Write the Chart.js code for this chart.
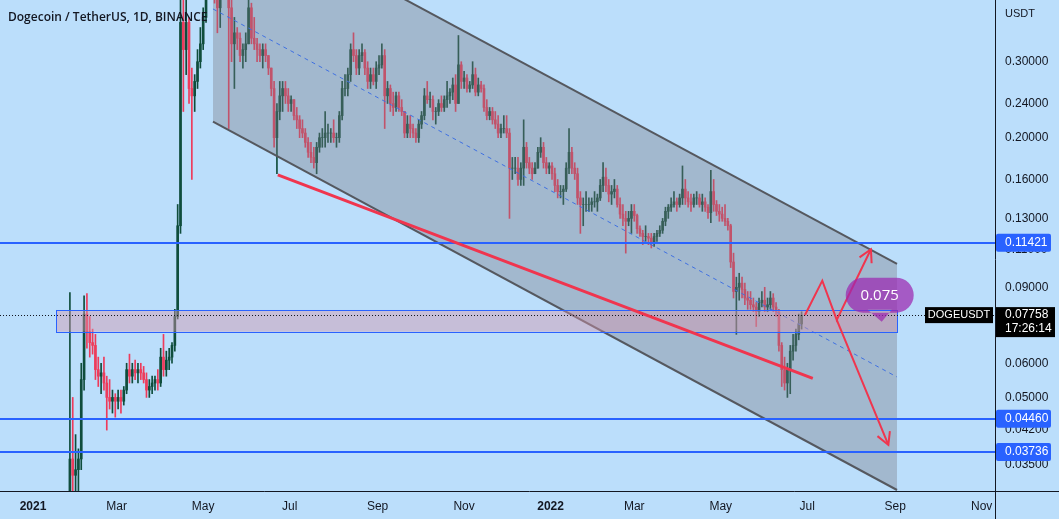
<!DOCTYPE html>
<html>
<head>
<meta charset="utf-8">
<script src="https://cdn.jsdelivr.net/npm/chart.js@4.4.1/dist/chart.umd.min.js"></script>
<style>
  html, body { margin: 0; padding: 0; background: #bbdefb; }
  #wrap { width: 1059px; height: 519px; position: relative; }
</style>
</head>
<body>
<div id="wrap"><canvas id="chart"></canvas></div>
<script>
// DOGE/USDT, two-day candles (day 0 = 1 Jan 2021)
const firstDay = 26;
const stepDays = 2;
const firstOpen = 0.0074;

const highs = [
  0.0875, 0.05, 0.041, 0.038, 0.06, 0.086, 0.087, 0.077, 0.072, 0.07,
  0.062, 0.06, 0.062, 0.056, 0.055, 0.052, 0.051, 0.052, 0.052, 0.053,
  0.06, 0.063, 0.06, 0.061, 0.06, 0.06, 0.059, 0.057, 0.055, 0.056,
  0.056, 0.058, 0.065, 0.07, 0.064, 0.065, 0.067, 0.08, 0.14, 0.45,
  0.42, 0.42, 0.38, 0.29, 0.28, 0.32, 0.36, 0.40, 0.58, 0.70,
  0.74, 0.69, 0.53, 0.52, 0.55, 0.52, 0.46, 0.43, 0.38, 0.36,
  0.35, 0.33, 0.35, 0.43, 0.41, 0.38, 0.34, 0.33, 0.33, 0.33,
  0.31, 0.29, 0.27, 0.24, 0.27, 0.27, 0.27, 0.26, 0.25, 0.245,
  0.235, 0.225, 0.22, 0.21, 0.2, 0.195, 0.19, 0.195, 0.205, 0.21,
  0.23, 0.215, 0.21, 0.22, 0.205, 0.23, 0.27, 0.28, 0.29, 0.33,
  0.35, 0.32, 0.32, 0.33, 0.32, 0.3, 0.29, 0.29, 0.3, 0.31,
  0.33, 0.32, 0.27, 0.265, 0.255, 0.255, 0.255, 0.245, 0.23, 0.225,
  0.225, 0.215, 0.21, 0.22, 0.23, 0.26, 0.27, 0.255, 0.25, 0.235,
  0.245, 0.25, 0.25, 0.27, 0.26, 0.275, 0.28, 0.345, 0.3, 0.285,
  0.28, 0.27, 0.3, 0.29, 0.275, 0.27, 0.265, 0.245, 0.235, 0.235,
  0.23, 0.225, 0.215, 0.225, 0.225, 0.21, 0.18, 0.18, 0.18, 0.175,
  0.22, 0.195, 0.18, 0.175, 0.175, 0.19, 0.2, 0.195, 0.18, 0.175,
  0.175, 0.17, 0.16, 0.155, 0.155, 0.175, 0.21, 0.19, 0.175, 0.17,
  0.15, 0.145, 0.15, 0.145, 0.145, 0.15, 0.148, 0.16, 0.175, 0.17,
  0.16, 0.155, 0.16, 0.155, 0.145, 0.14, 0.135, 0.135, 0.14, 0.14,
  0.133, 0.125, 0.122, 0.125, 0.12, 0.12, 0.12, 0.122, 0.125, 0.13,
  0.138, 0.14, 0.145, 0.15, 0.145, 0.148, 0.172, 0.16, 0.15, 0.148,
  0.148, 0.15, 0.148, 0.148, 0.145, 0.14, 0.168, 0.16, 0.143, 0.14,
  0.138, 0.14, 0.13, 0.126, 0.108, 0.095, 0.097, 0.095, 0.092, 0.088,
  0.088, 0.085, 0.083, 0.085, 0.088, 0.09, 0.085, 0.088, 0.087, 0.083,
  0.08, 0.067, 0.062, 0.06, 0.066, 0.07, 0.072, 0.078, 0.079
];
const lows = [
  0.0072, 0.028, 0.025, 0.03, 0.034, 0.052, 0.065, 0.062, 0.063, 0.055,
  0.053, 0.051, 0.052, 0.042, 0.047, 0.046, 0.045, 0.047, 0.046, 0.048,
  0.051, 0.054, 0.054, 0.055, 0.054, 0.055, 0.054, 0.05, 0.05, 0.051,
  0.052, 0.052, 0.053, 0.056, 0.056, 0.058, 0.06, 0.064, 0.076, 0.12,
  0.23, 0.28, 0.24, 0.16, 0.23, 0.26, 0.29, 0.32, 0.37, 0.53,
  0.55, 0.41, 0.35, 0.36, 0.44, 0.42, 0.21, 0.30, 0.26, 0.32,
  0.30, 0.29, 0.30, 0.33, 0.33, 0.32, 0.30, 0.30, 0.29, 0.30,
  0.28, 0.25, 0.19, 0.165, 0.22, 0.23, 0.24, 0.23, 0.23, 0.22,
  0.21, 0.2, 0.2, 0.19, 0.18, 0.175, 0.17, 0.165, 0.185, 0.19,
  0.19, 0.195, 0.195, 0.195, 0.19, 0.195, 0.22, 0.25, 0.25, 0.27,
  0.3, 0.28, 0.28, 0.3, 0.28, 0.26, 0.26, 0.265, 0.26, 0.28,
  0.29, 0.21, 0.24, 0.23, 0.225, 0.23, 0.23, 0.225, 0.2, 0.2,
  0.2, 0.2, 0.195, 0.195, 0.21, 0.22, 0.24, 0.235, 0.22, 0.215,
  0.225, 0.23, 0.23, 0.235, 0.24, 0.245, 0.23, 0.24, 0.26, 0.26,
  0.255, 0.255, 0.26, 0.25, 0.25, 0.255, 0.23, 0.22, 0.22, 0.215,
  0.21, 0.2, 0.2, 0.205, 0.2, 0.13, 0.16, 0.165, 0.155, 0.155,
  0.155, 0.17, 0.165, 0.16, 0.165, 0.17, 0.18, 0.17, 0.165, 0.165,
  0.16, 0.15, 0.145, 0.145, 0.14, 0.15, 0.165, 0.165, 0.16, 0.14,
  0.12, 0.125, 0.135, 0.135, 0.135, 0.138, 0.135, 0.143, 0.15, 0.15,
  0.142, 0.14, 0.145, 0.138, 0.13, 0.125, 0.108, 0.125, 0.12, 0.128,
  0.12, 0.118, 0.113, 0.115, 0.113, 0.111, 0.112, 0.115, 0.118, 0.12,
  0.125, 0.13, 0.135, 0.138, 0.135, 0.138, 0.14, 0.14, 0.138, 0.135,
  0.138, 0.14, 0.138, 0.135, 0.135, 0.13, 0.127, 0.135, 0.132, 0.128,
  0.128, 0.125, 0.122, 0.1, 0.085, 0.07, 0.084, 0.085, 0.082, 0.08,
  0.08, 0.079, 0.073, 0.077, 0.081, 0.079, 0.079, 0.08, 0.079, 0.077,
  0.064, 0.053, 0.052, 0.05, 0.051, 0.061, 0.064, 0.068, 0.072
];
const closes = [
  0.036, 0.033, 0.034, 0.036, 0.055, 0.078, 0.071, 0.067, 0.066, 0.058,
  0.056, 0.057, 0.054, 0.05, 0.049, 0.05, 0.049, 0.05, 0.049, 0.052,
  0.058, 0.056, 0.058, 0.057, 0.058, 0.057, 0.055, 0.052, 0.053, 0.054,
  0.055, 0.054, 0.062, 0.058, 0.061, 0.062, 0.066, 0.077, 0.125, 0.37,
  0.32, 0.37, 0.26, 0.25, 0.27, 0.30, 0.33, 0.38, 0.54, 0.63,
  0.65, 0.48, 0.40, 0.50, 0.48, 0.44, 0.40, 0.33, 0.35, 0.34,
  0.31, 0.32, 0.33, 0.40, 0.34, 0.33, 0.32, 0.31, 0.32, 0.31,
  0.29, 0.26, 0.2, 0.23, 0.25, 0.26, 0.25, 0.24, 0.245, 0.225,
  0.22, 0.21, 0.205, 0.195, 0.185, 0.18, 0.175, 0.19, 0.2, 0.2,
  0.205, 0.205, 0.205, 0.2, 0.2, 0.225, 0.26, 0.26, 0.28, 0.32,
  0.31, 0.29, 0.31, 0.315, 0.29, 0.27, 0.28, 0.27, 0.29, 0.295,
  0.31, 0.25, 0.26, 0.24, 0.235, 0.25, 0.235, 0.23, 0.205, 0.215,
  0.21, 0.205, 0.2, 0.215, 0.225, 0.25, 0.245, 0.245, 0.23, 0.23,
  0.24, 0.235, 0.245, 0.25, 0.255, 0.265, 0.24, 0.295, 0.27, 0.275,
  0.26, 0.265, 0.28, 0.255, 0.265, 0.26, 0.235, 0.225, 0.23, 0.22,
  0.215, 0.205, 0.21, 0.21, 0.205, 0.17, 0.17, 0.17, 0.16, 0.17,
  0.19, 0.175, 0.17, 0.165, 0.17, 0.185, 0.19, 0.175, 0.17, 0.172,
  0.165, 0.155, 0.15, 0.15, 0.152, 0.17, 0.185, 0.17, 0.165, 0.145,
  0.14, 0.14, 0.14, 0.14, 0.142, 0.142, 0.145, 0.155, 0.162, 0.155,
  0.148, 0.15, 0.152, 0.14, 0.133, 0.13, 0.128, 0.13, 0.135, 0.132,
  0.123, 0.12, 0.118, 0.118, 0.117, 0.114, 0.118, 0.12, 0.122, 0.128,
  0.135, 0.138, 0.14, 0.142, 0.14, 0.145, 0.152, 0.145, 0.142, 0.14,
  0.145, 0.145, 0.14, 0.142, 0.138, 0.134, 0.15, 0.14, 0.135, 0.133,
  0.13, 0.128, 0.125, 0.103, 0.088, 0.09, 0.092, 0.089, 0.085, 0.084,
  0.082, 0.081, 0.079, 0.083, 0.084, 0.081, 0.082, 0.085, 0.081, 0.079,
  0.066, 0.058, 0.054, 0.058, 0.064, 0.066, 0.07, 0.074, 0.07758
];

// axis ticks
const monthDays = [0, 59, 120, 181, 243, 304, 365, 424, 485, 546, 608, 669];
const monthLabels = ['2021', 'Mar', 'May', 'Jul', 'Sep', 'Nov', '2022', 'Mar', 'May', 'Jul', 'Sep', 'Nov'];
const priceTicks = [0.035, 0.042, 0.05, 0.06, 0.09, 0.11, 0.13, 0.16, 0.2, 0.24, 0.3];

// drawings, as [day, price]
const channelUpper = [[126.9, 0.7256], [609.3, 0.10192]];
const channelLower = [[126.9, 0.2178], [609.3, 0.030507]];
const trendLine = [[172.6, 0.1639], [549.9, 0.05538]];
const zigzagUp = [[544.4, 0.07764], [556.6, 0.09324], [566.8, 0.0756], [590.9, 0.11025]];
const zigzagDown = [[566.8, 0.0756], [603.2, 0.0388]];
const zone = { from: 16.2, to: 609.3, low: 0.07101, high: 0.07974 };
const levels = [0.11421, 0.0446, 0.03736];
const lastPrice = 0.07758;
const bubbleTip = [598.5, 0.07492];
const bubbleText = '0.075';

const opens = closes.map((c, i) => i === 0 ? firstOpen : closes[i - 1]);
const days = closes.map((c, i) => firstDay + i * stepDays);
const upColor = '#0f4d3c';
const downColor = '#ee3b5b';
const candleColor = i => closes[i] >= opens[i] ? upColor : downColor;

function arrowHead(ctx, x0, y0, x1, y1) {
  const ang = Math.atan2(y1 - y0, x1 - x0);
  const len = 14;
  ctx.beginPath();
  ctx.moveTo(x1 - len * Math.cos(ang - 0.5), y1 - len * Math.sin(ang - 0.5));
  ctx.lineTo(x1, y1);
  ctx.lineTo(x1 - len * Math.cos(ang + 0.5), y1 - len * Math.sin(ang + 0.5));
  ctx.stroke();
}

const drawings = {
  id: 'drawings',
  afterDatasetsDraw(chart) {
    const { ctx, chartArea: a, scales: { x, y } } = chart;
    const px = p => [x.getPixelForValue(p[0]), y.getPixelForValue(p[1])];
    ctx.save();
    ctx.beginPath();
    ctx.rect(a.left, a.top, a.width, a.height);
    ctx.clip();

    // parallel channel
    const u0 = px(channelUpper[0]), u1 = px(channelUpper[1]);
    const l0 = px(channelLower[0]), l1 = px(channelLower[1]);
    ctx.fillStyle = 'rgba(120, 123, 134, 0.38)';
    ctx.beginPath();
    ctx.moveTo(u0[0], u0[1]); ctx.lineTo(u1[0], u1[1]);
    ctx.lineTo(l1[0], l1[1]); ctx.lineTo(l0[0], l0[1]);
    ctx.closePath();
    ctx.fill();
    ctx.strokeStyle = '#55585f';
    ctx.lineWidth = 2;
    ctx.beginPath(); ctx.moveTo(u0[0], u0[1]); ctx.lineTo(u1[0], u1[1]); ctx.stroke();
    ctx.beginPath(); ctx.moveTo(l0[0], l0[1]); ctx.lineTo(l1[0], l1[1]); ctx.stroke();
    ctx.strokeStyle = '#3f6fe0';
    ctx.lineWidth = 1;
    ctx.setLineDash([4, 4]);
    ctx.beginPath();
    ctx.moveTo(u0[0], (u0[1] + l0[1]) / 2);
    ctx.lineTo(u1[0], (u1[1] + l1[1]) / 2);
    ctx.stroke();
    ctx.setLineDash([]);

    // zone box
    const zx0 = x.getPixelForValue(zone.from), zx1 = x.getPixelForValue(zone.to);
    const zy0 = y.getPixelForValue(zone.high), zy1 = y.getPixelForValue(zone.low);
    ctx.fillStyle = 'rgba(212, 150, 172, 0.45)';
    ctx.fillRect(zx0, zy0, zx1 - zx0, zy1 - zy0);
    ctx.strokeStyle = '#2962ff';
    ctx.lineWidth = 1;
    ctx.strokeRect(Math.round(zx0) + 0.5, Math.round(zy0) + 0.5, Math.round(zx1 - zx0), Math.round(zy1 - zy0));

    // horizontal levels
    ctx.strokeStyle = '#2962ff';
    ctx.lineWidth = 2;
    levels.forEach(v => {
      const yy = Math.round(y.getPixelForValue(v));
      ctx.beginPath(); ctx.moveTo(a.left, yy); ctx.lineTo(a.right, yy); ctx.stroke();
    });

    // last price dotted line
    const ly = Math.round(y.getPixelForValue(lastPrice)) + 0.5;
    ctx.strokeStyle = '#131722';
    ctx.lineWidth = 1;
    ctx.setLineDash([1, 2]);
    ctx.beginPath(); ctx.moveTo(a.left, ly); ctx.lineTo(a.right, ly); ctx.stroke();
    ctx.setLineDash([]);

    // red trend line
    const t0 = px(trendLine[0]), t1 = px(trendLine[1]);
    ctx.strokeStyle = '#f0354e';
    ctx.lineWidth = 3;
    ctx.beginPath(); ctx.moveTo(t0[0], t0[1]); ctx.lineTo(t1[0], t1[1]); ctx.stroke();

    // projection arrows
    ctx.lineWidth = 2;
    ctx.lineJoin = 'miter';
    [zigzagUp, zigzagDown].forEach(path => {
      const pts = path.map(px);
      ctx.beginPath();
      pts.forEach((p, i) => i ? ctx.lineTo(p[0], p[1]) : ctx.moveTo(p[0], p[1]));
      ctx.stroke();
      const n = pts.length;
      arrowHead(ctx, pts[n - 2][0], pts[n - 2][1], pts[n - 1][0], pts[n - 1][1]);
    });
    ctx.restore();

    // callout bubble
    const tip = px(bubbleTip);
    const bx = tip[0] - 36, by = tip[1] - 44, bw = 68, bh = 35;
    ctx.save();
    ctx.fillStyle = 'rgba(156, 39, 176, 0.72)';
    ctx.beginPath();
    ctx.roundRect(bx, by, bw, bh, 17.5);
    ctx.moveTo(tip[0] - 14, by + bh - 3);
    ctx.lineTo(tip[0], tip[1]);
    ctx.lineTo(tip[0] + 10, by + bh - 3);
    ctx.closePath();
    ctx.fill();
    ctx.fillStyle = '#ffffff';
    ctx.font = '15px "Open Sans"';
    ctx.textAlign = 'center';
    ctx.textBaseline = 'middle';
    ctx.fillText(bubbleText, bx + bw / 2, by + bh / 2 + 1);
    ctx.restore();
  },
  afterDraw(chart) {
    const { ctx, chartArea: a, scales: { y }, width, height } = chart;
    ctx.save();
    // axis lines
    ctx.strokeStyle = '#131722';
    ctx.lineWidth = 1;
    ctx.beginPath();
    ctx.moveTo(Math.round(a.right) + 0.5, 0); ctx.lineTo(Math.round(a.right) + 0.5, height);
    ctx.moveTo(0, Math.round(a.bottom) + 0.5); ctx.lineTo(width, Math.round(a.bottom) + 0.5);
    ctx.stroke();

    ctx.textBaseline = 'middle';
    ctx.textAlign = 'left';
    ctx.fillStyle = '#131722';
    ctx.font = '11px "Liberation Sans"';
    ctx.fillText('USDT', a.right + 10, 14);

    // level labels
    ctx.font = '12px "Liberation Sans"';
    levels.forEach(v => {
      const yy = y.getPixelForValue(v);
      ctx.fillStyle = '#2962ff';
      ctx.beginPath();
      ctx.roundRect(a.right + 1, yy - 9, 55, 18, 2);
      ctx.fill();
      ctx.fillStyle = '#ffffff';
      ctx.fillText(v.toFixed(5), a.right + 10, yy);
    });

    // last price labels
    const ly = y.getPixelForValue(lastPrice);
    ctx.fillStyle = '#000000';
    ctx.fillRect(a.right + 1, ly - 8, 59, 30);
    ctx.fillRect(a.right - 70, ly - 8, 68, 16);
    ctx.fillStyle = '#ffffff';
    ctx.fillText(lastPrice.toFixed(5), a.right + 10, ly);
    ctx.fillText('17:26:14', a.right + 10, ly + 14);
    ctx.textAlign = 'center';
    ctx.font = '11px "Liberation Sans"';
    ctx.fillText('DOGEUSDT', a.right - 36, ly);

    // title
    ctx.textAlign = 'left';
    ctx.textBaseline = 'alphabetic';
    ctx.fillStyle = '#131722';
    ctx.font = '600 12px "Open Sans"';
    ctx.fillText('Dogecoin / TetherUS, 1D, BINANCE', 8, 21);
    ctx.restore();
  }
};

const noPad = s => {
  s.paddingTop = 0; s.paddingBottom = 0; s.paddingLeft = 0; s.paddingRight = 0;
};

new Chart(document.getElementById('chart'), {
  type: 'bar',
  data: {
    datasets: [
      {
        data: days.map((d, i) => ({ x: d, y: [lows[i], highs[i]] })),
        backgroundColor: c => candleColor(c.dataIndex),
        barThickness: 1,
        grouped: false,
        order: 2
      },
      {
        data: days.map((d, i) => ({ x: d, y: [opens[i], closes[i]] })),
        backgroundColor: c => candleColor(c.dataIndex),
        barThickness: 2,
        grouped: false,
        order: 1
      }
    ]
  },
  options: {
    responsive: true,
    maintainAspectRatio: false,
    animation: false,
    layout: { padding: 0 },
    plugins: { legend: { display: false }, tooltip: { enabled: false } },
    scales: {
      x: {
        type: 'linear',
        min: -23.3,
        max: 678.4,
        offset: false,
        grid: { display: false, drawTicks: false },
        border: { display: false },
        afterBuildTicks: s => { s.ticks = monthDays.map(v => ({ value: v })); },
        afterFit: s => { s.height = 28; noPad(s); },
        ticks: {
          autoSkip: false,
          maxRotation: 0,
          padding: 8,
          color: '#131722',
          font: c => ({ family: '"Liberation Sans"', size: 12, weight: (c.tick && (c.tick.value === 0 || c.tick.value === 365)) ? 'bold' : 'normal' }),
          callback: v => monthLabels[monthDays.indexOf(v)]
        }
      },
      y: {
        type: 'logarithmic',
        position: 'right',
        min: 0.030345,
        max: 0.41699,
        grid: { display: false, drawTicks: false },
        border: { display: false },
        afterBuildTicks: s => { s.ticks = priceTicks.map(v => ({ value: v })); },
        afterFit: s => { s.width = 64; noPad(s); },
        ticks: {
          autoSkip: false,
          padding: 10,
          color: '#131722',
          font: { family: '"Liberation Sans"', size: 12 },
          callback: v => Number(v).toFixed(5)
        }
      }
    }
  },
  plugins: [drawings]
});
</script>
</body>
</html>
